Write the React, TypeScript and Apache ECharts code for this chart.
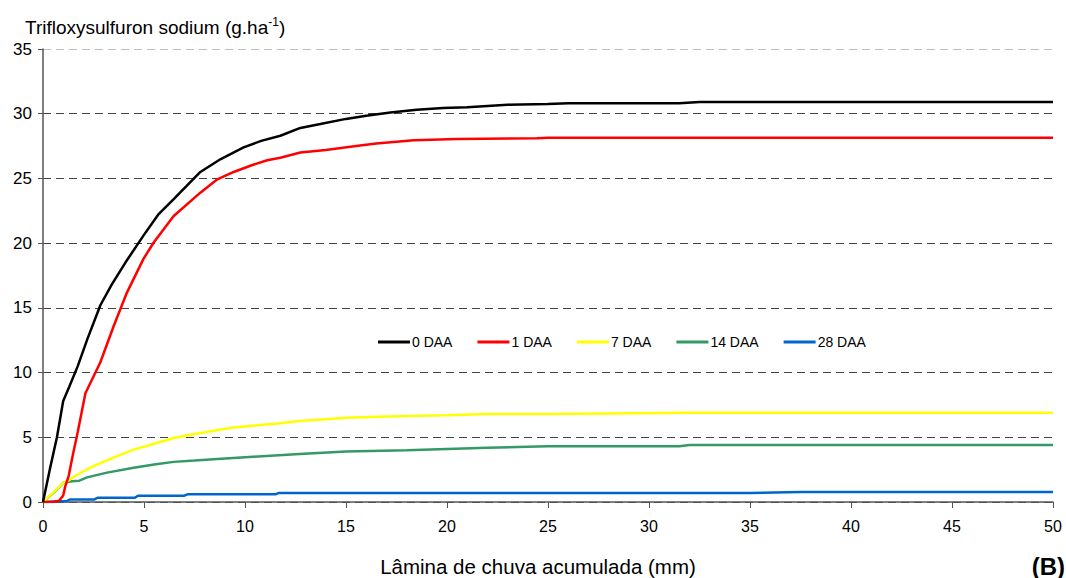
import React, { useEffect, useRef } from "react";
import * as echarts from "echarts";

const xTicks = { min: 0, max: 50, interval: 5 };
const yTicks = { min: 0, max: 35, interval: 5 };

const seriesNames = ["0 DAA", "1 DAA", "7 DAA", "14 DAA", "28 DAA"];
const seriesColors = ["#000000", "#ff0000", "#ffff00", "#339966", "#0066cc"];

const daa0: number[][] = [
  [0, 0], [0.35, 2.6], [0.69, 5], [1.0, 7.8], [1.3, 8.9], [1.72, 10.5], [2.2, 12.6], [2.84, 15.2],
  [3.4, 16.8], [4.08, 18.5], [4.98, 20.6], [5.7, 22.2], [6.47, 23.4], [7.1, 24.4], [7.79, 25.5],
  [8.8, 26.5], [9.93, 27.4], [10.8, 27.9], [11.75, 28.3], [12.74, 28.9], [13.73, 29.2], [15, 29.6],
  [16, 29.85], [17.2, 30.1], [18.5, 30.3], [19.8, 30.45], [21, 30.5], [23, 30.7], [25, 30.75],
  [26, 30.8], [31.5, 30.8], [32.5, 30.9], [50, 30.9],
];
const daa1: number[][] = [
  [0, 0], [0.5, 0], [0.8, 0.1], [1.0, 0.5], [1.1, 1.2], [1.27, 2.0], [1.5, 3.8], [1.72, 5.4],
  [2.1, 8.4], [2.5, 9.7], [2.84, 10.8], [3.5, 13.6], [4.16, 16.2], [4.98, 18.8], [5.48, 20.05],
  [6.47, 22.1], [7.79, 23.9], [8.6, 24.9], [9.44, 25.5], [10.3, 26.0], [11.1, 26.4], [11.75, 26.6],
  [12.74, 27.0], [14, 27.2], [15.5, 27.5], [16.5, 27.7], [18.35, 27.95], [20.5, 28.05],
  [24.45, 28.1], [25, 28.15], [50, 28.15],
];
const daa7: number[][] = [
  [0, 0], [0.5, 0.72], [1.02, 1.5], [1.3, 1.7], [1.68, 2.1], [2.2, 2.55], [2.84, 3.0], [3.6, 3.5],
  [4.49, 4.05], [5.5, 4.5], [6.47, 4.95], [7.5, 5.25], [8.45, 5.5], [9.4, 5.75], [10.4, 5.9],
  [11.5, 6.05], [12.7, 6.25], [14, 6.4], [15, 6.5], [17, 6.6], [20, 6.7], [22, 6.8], [25, 6.8],
  [32, 6.9], [50, 6.9],
];
const daa14: number[][] = [
  [0, 0], [0.53, 0.72], [1.02, 1.5], [1.43, 1.6], [1.8, 1.65], [2.18, 1.9], [3.17, 2.27],
  [4.49, 2.65], [5.5, 2.9], [6.47, 3.1], [7.5, 3.2], [8.45, 3.3], [10.4, 3.5], [12.7, 3.7],
  [15, 3.9], [18, 4.0], [20, 4.1], [22, 4.2], [25, 4.3], [31.5, 4.3], [32, 4.4], [50, 4.4],
];
const daa28: number[][] = [
  [0, 0], [1.2, 0.08], [1.35, 0.2], [2.55, 0.2], [2.7, 0.33], [4.55, 0.33], [4.7, 0.49],
  [7.0, 0.49], [7.15, 0.59], [11.5, 0.59], [11.65, 0.69], [35, 0.69], [37.5, 0.78], [50, 0.78],
];
const seriesData = [daa0, daa1, daa7, daa14, daa28];

const FONT = "'Liberation Sans', Arial, sans-serif";

export default function App() {
  const ref = useRef<HTMLDivElement>(null);
  useEffect(() => {
    if (!ref.current) return;
    const chart = echarts.init(ref.current, null, { renderer: "svg" });
    const gridColors = ["#444", "#444", "#444", "#444", "#444", "#444", "#444", "#c0c0c0"];
    chart.setOption({
      animation: false,
      backgroundColor: "#ffffff",
      textStyle: { fontFamily: FONT },
      grid: { left: 43, right: 13, top: 49, bottom: 76, containLabel: false },
      legend: {
        data: seriesNames,
        left: 373,
        top: 330,
        itemWidth: 32,
        itemHeight: 3,
        itemGap: 25,
        icon: "rect",
        textStyle: { fontFamily: FONT, fontSize: 14, color: "#000", padding: [0, 0, 0, -3] },
      },
      xAxis: {
        type: "value",
        min: xTicks.min,
        max: xTicks.max,
        interval: xTicks.interval,
        axisLine: { show: true, lineStyle: { color: "#555", width: 1.5 } },
        axisTick: { show: true, inside: false, length: 6, lineStyle: { color: "#555" } },
        axisLabel: { fontSize: 16, color: "#000", margin: 16, fontFamily: FONT },
        splitLine: { show: false },
      },
      yAxis: {
        type: "value",
        min: yTicks.min,
        max: yTicks.max,
        interval: yTicks.interval,
        axisLine: { show: true, lineStyle: { color: "#555", width: 1.5 } },
        axisTick: { show: true, inside: false, length: 5, lineStyle: { color: "#555" } },
        axisLabel: { fontSize: 17, color: "#000", margin: 11, fontFamily: FONT },
        splitLine: { show: true, lineStyle: { color: gridColors, type: [8, 5], width: 1 } },
      },
      graphic: [
        {
          type: "text",
          left: 25,
          top: 16,
          style: {
            text: "{a|Trifloxysulfuron sodium (g.ha}{s|-1}{a|)}",
            rich: {
              a: { fontSize: 19, fontFamily: FONT, fill: "#000", lineHeight: 24 },
              s: { fontSize: 12, fontFamily: FONT, fill: "#000", padding: [0, 0, 10, 0], lineHeight: 24 },
            },
          },
        },
        {
          type: "text",
          x: 538,
          y: 566,
          style: {
            text: "Lâmina de chuva acumulada (mm)",
            fontSize: 20.5,
            fontFamily: FONT,
            fill: "#000",
            align: "center",
            verticalAlign: "middle",
          },
        },
        {
          type: "text",
          x: 1065,
          y: 566,
          style: {
            text: "(B)",
            fontSize: 24,
            fontWeight: "bold",
            fontFamily: FONT,
            fill: "#000",
            align: "right",
            verticalAlign: "middle",
          },
        },
      ],
      series: seriesNames.map((name, i) => ({
        name,
        type: "line",
        data: seriesData[i],
        symbol: "none",
        smooth: false,
        lineStyle: { color: seriesColors[i], width: 2.5 },
        itemStyle: { color: seriesColors[i] },
        z: 10 - i,
      })),
    });
    return () => chart.dispose();
  }, []);
  return (
    <div
      ref={ref}
      style={{ position: "absolute", left: 0, top: 0, width: 1066, height: 578 }}
    />
  );
}
